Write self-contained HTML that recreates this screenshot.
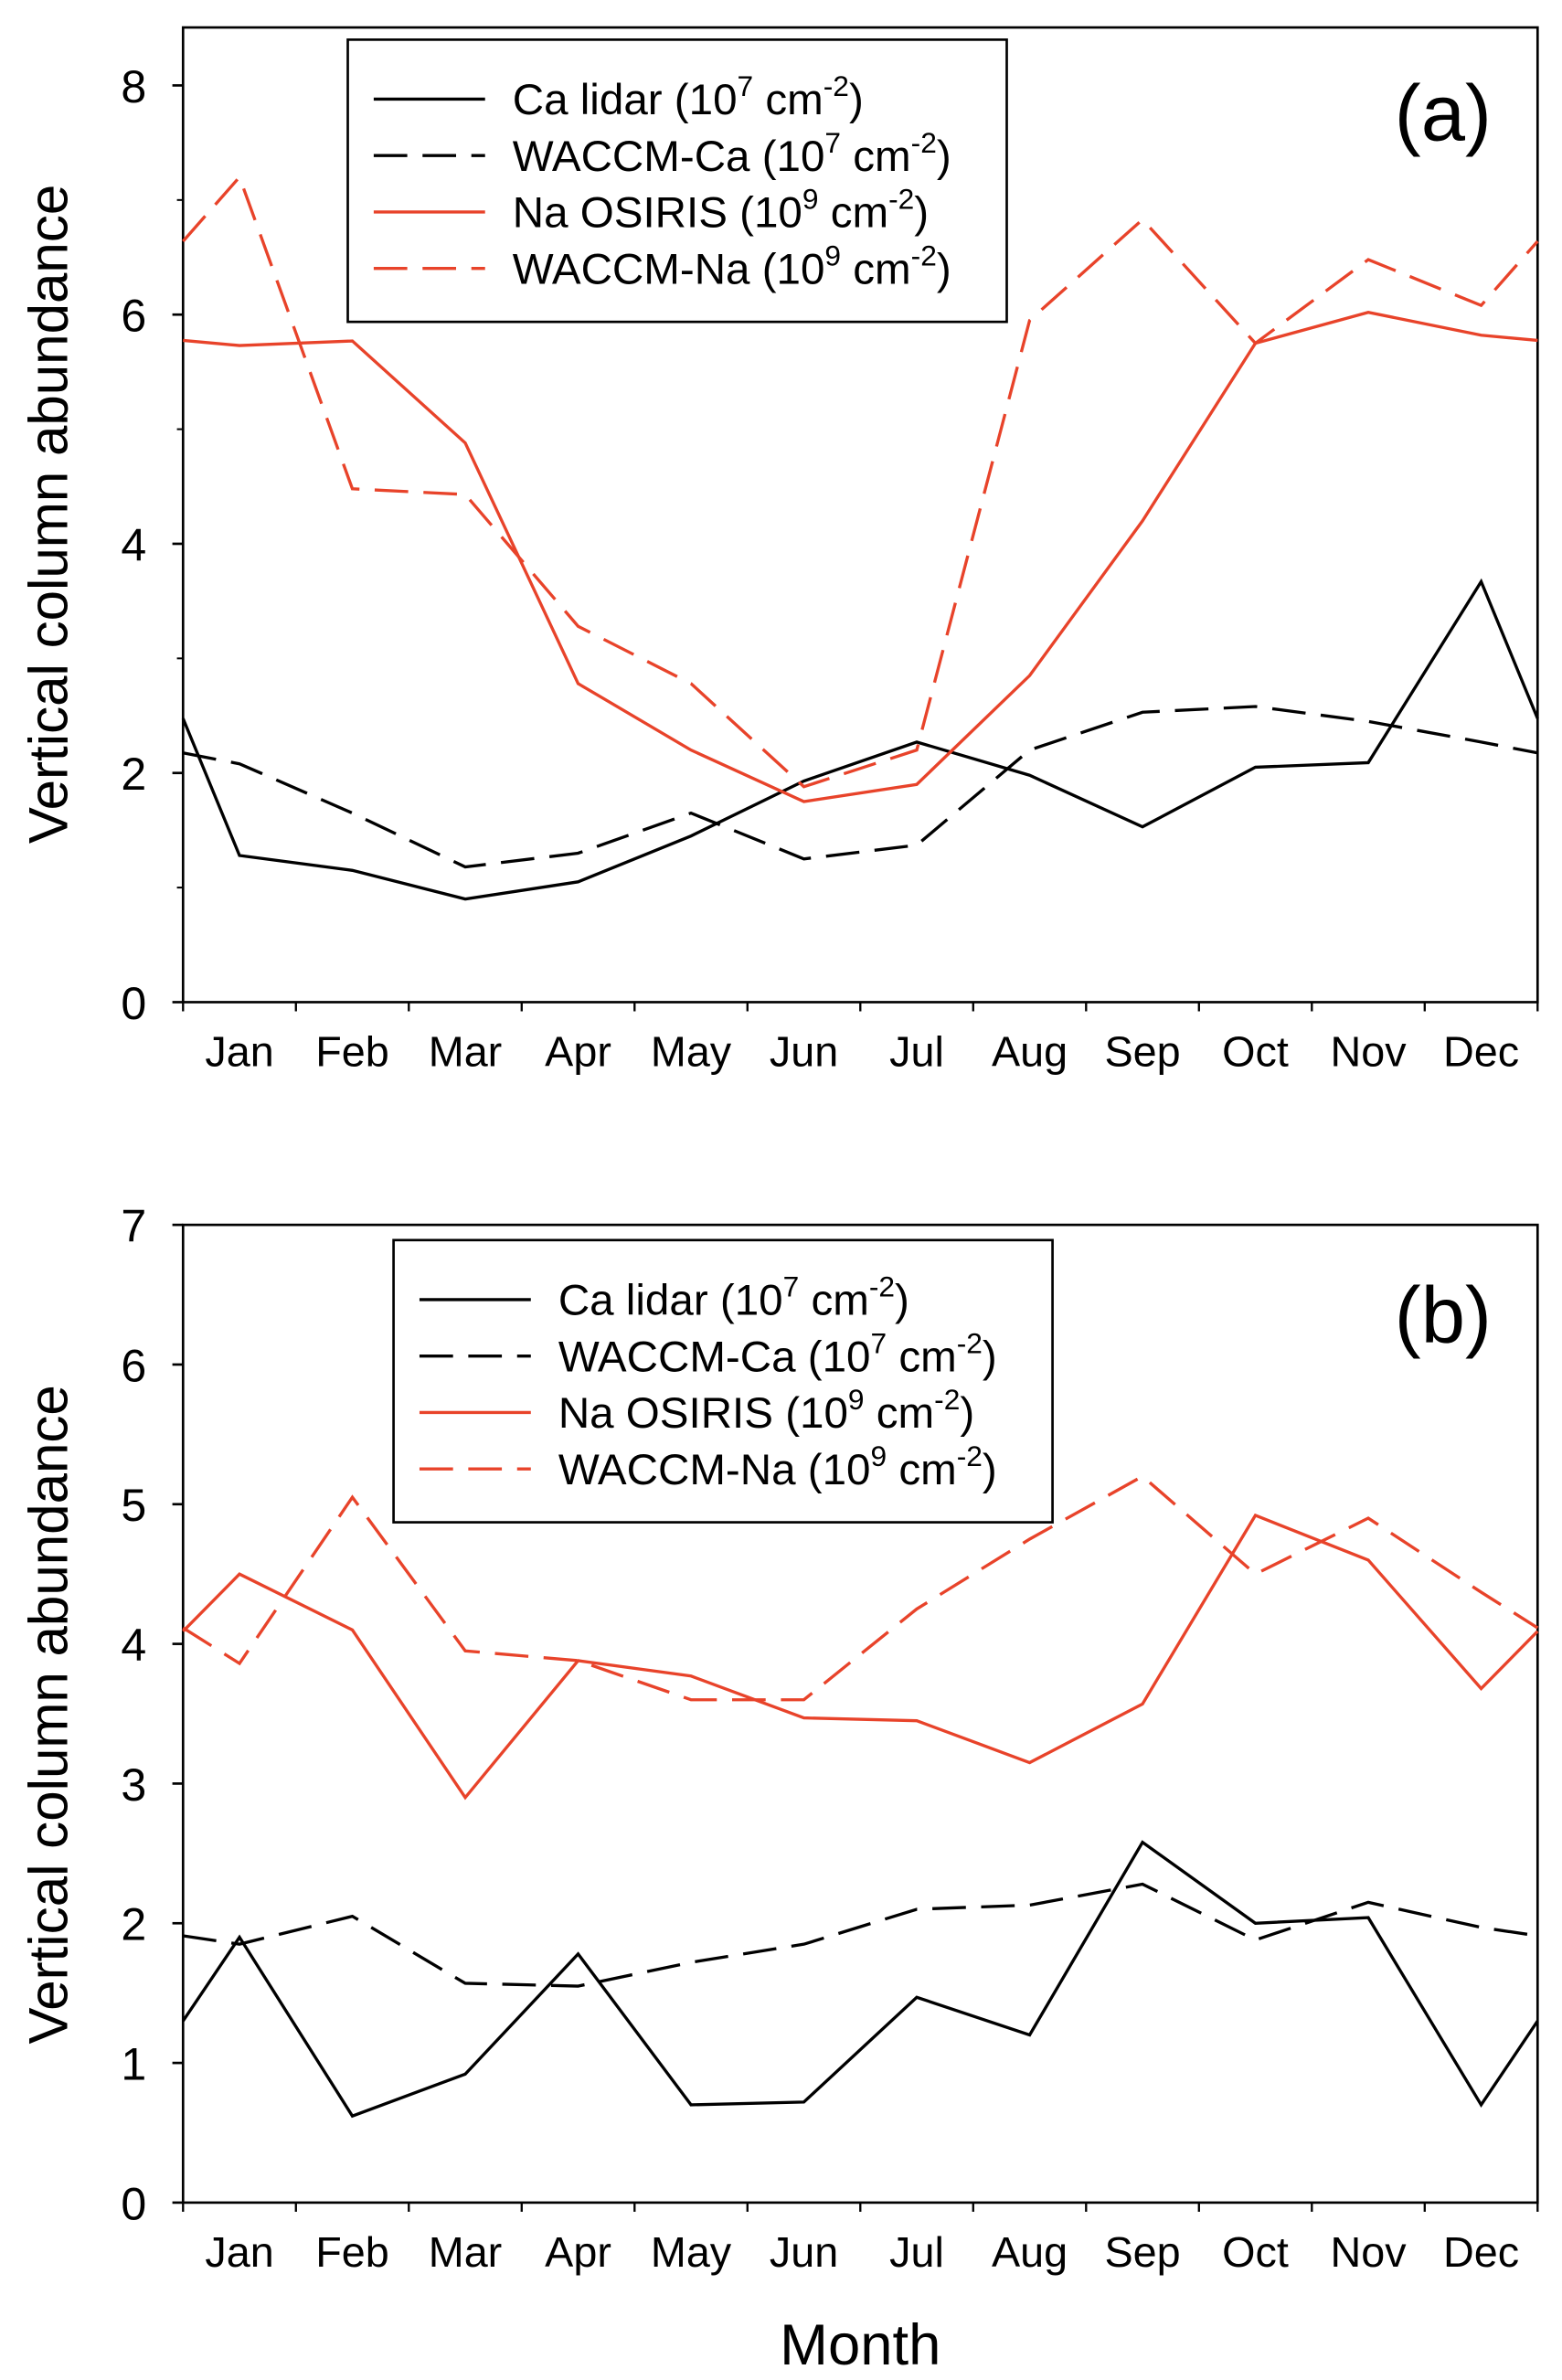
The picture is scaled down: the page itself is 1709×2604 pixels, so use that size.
<!DOCTYPE html>
<html><head><meta charset="utf-8"><style>
html,body{margin:0;padding:0;background:#fff;}
svg{display:block;font-family:"Liberation Sans",Arial,sans-serif;}
</style></head><body>
<svg id="chart" width="1709" height="2604" viewBox="0 0 1024 1560.3" preserveAspectRatio="none" xmlns="http://www.w3.org/2000/svg">
<g id="root"></g>
</svg>
<script>
const months = ["Jan","Feb","Mar","Apr","May","Jun","Jul","Aug","Sep","Oct","Nov","Dec"];
const seriesNames = ["Ca lidar","WACCM-Ca","Na OSIRIS","WACCM-Na"];
const legendUnits = ["7","7","9","9"];
const caLidarA = [1.28,1.15,0.9,1.05,1.45,1.93,2.27,1.98,1.53,2.05,2.09,3.67];
const waccmCaA = [2.08,1.65,1.18,1.3,1.65,1.25,1.37,2.2,2.53,2.58,2.45,2.27];
const naOsirisA = [5.73,5.77,4.88,2.78,2.2,1.75,1.9,2.85,4.2,5.75,6.02,5.82];
const waccmNaA = [7.2,4.48,4.43,3.28,2.78,1.88,2.2,5.95,6.83,5.75,6.48,6.08];
const caLidarB = [1.9,0.62,0.92,1.78,0.7,0.72,1.47,1.2,2.58,2.0,2.04,0.7];
const waccmCaB = [1.85,2.05,1.57,1.55,1.72,1.85,2.1,2.13,2.28,1.88,2.15,1.97];
const naOsirisB = [4.5,4.1,2.9,3.88,3.77,3.47,3.45,3.15,3.57,4.92,4.6,3.68];
const waccmNaB = [3.86,5.05,3.95,3.88,3.6,3.6,4.25,4.75,5.2,4.5,4.9,4.37];
const ticksA = [0,2,4,6,8];
const ticksB = [0,1,2,3,4,5,6,7];

const NS="http://www.w3.org/2000/svg";
const root=document.getElementById('root');
function el(tag,attrs,parent){const e=document.createElementNS(NS,tag);for(const k in attrs)e.setAttribute(k,attrs[k]);(parent||root).appendChild(e);return e;}
const RED="#e8432a";
const X0=120,X1=1008;
const monthW=(X1-X0)/12;
function xScale(i){return X0+monthW*(i+0.5);}

function panel(cfg){
  const g=el('g',{});
  
  
  const y=v=>cfg.y0-(v)*cfg.k;
  const plot=el('rect',{x:X0,y:cfg.top,width:X1-X0,height:cfg.y0-cfg.top,fill:'none',stroke:'#000','stroke-width':1.6},g);
  
  
  cfg.ticks.forEach(t=>{
    const ln=el('line',{x1:X0-7,x2:X0,y1:y(t),y2:y(t),stroke:'#000','stroke-width':1.6},g);
    
    
    const tx=el('text',{x:X0-24,y:y(t)+11,'font-size':30,'text-anchor':'end'},g);
    tx.textContent=t;
    
    
  });
  (cfg.minor||[]).forEach(t=>{
    const ln=el('line',{x1:X0-4,x2:X0,y1:y(t),y2:y(t),stroke:'#000','stroke-width':1.2},g);
    
    
  });
  for(let i=0;i<=12;i++){
    const xx=X0+monthW*i;
    const ln=el('line',{x1:xx,x2:xx,y1:cfg.y0,y2:cfg.y0+6,stroke:'#000','stroke-width':1.4},g);
    
    
  }
  months.forEach((m,i)=>{
    const tx=el('text',{x:xScale(i),y:cfg.y0+42,'font-size':28,'text-anchor':'middle'},g);
    tx.textContent=m;
    
    
  });
  const styles=[{c:'#000',d:''},{c:'#000',d:'22,10'},{c:RED,d:''},{c:RED,d:'22,10'}];
  cfg.data.forEach((arr,si)=>{
    const edge=(arr[0]+arr[11])/2;
    let pts=[[X0,y(edge)]];
    arr.forEach((v,i)=>pts.push([xScale(i),y(v)]));
    pts.push([X1,y(edge)]);
    const p=el('polyline',{points:pts.map(p=>p.join(',')).join(' '),fill:'none',stroke:styles[si].c,'stroke-width':2,'stroke-dasharray':styles[si].d,'stroke-linejoin':'miter'},g);
    
    
  });
  const lg=el('g',{},g);
  
  
  el('rect',{x:cfg.lx,y:cfg.ly,width:432,height:185,fill:'#fff',stroke:'#000','stroke-width':1.6},lg);
  seriesNames.forEach((n,i)=>{
    const yy=cfg.ly+39+i*37;
    const ln=el('line',{x1:cfg.lx+17,x2:cfg.lx+90,y1:yy,y2:yy,stroke:styles[i].c,'stroke-width':2,'stroke-dasharray':styles[i].d},lg);
    
    
    const tx=el('text',{x:cfg.lx+108,y:yy+10,'font-size':28.5},lg);
    
    
    tx.innerHTML=n+' (10<tspan dy="-12" font-size="19">'+legendUnits[i]+'</tspan><tspan dy="12"> cm</tspan><tspan dy="-12" font-size="19">-2</tspan><tspan dy="12">)</tspan>';
  });
  const lab=el('text',{x:946,y:cfg.labY,'font-size':52,'text-anchor':'middle'},g);
  lab.textContent=cfg.label;
  
  
  const yt=el('text',{x:0,y:0,'font-size':36,'text-anchor':'middle',transform:'translate(44,'+cfg.ylabY+') rotate(-90)'},g);
  yt.textContent='Vertical column abundance';
  
  
}
panel({name:'panel-a',top:18,y0:657,k:(657-56)/8,ticks:ticksA,minor:[1,3,5,7],data:[caLidarA,waccmCaA,naOsirisA,waccmNaA],lx:228,ly:26,label:'(a)',labY:92,ylabY:337});
panel({name:'panel-b',top:803,y0:1444,k:(1444-803)/7,ticks:ticksB,minor:[],data:[caLidarB,waccmCaB,naOsirisB,waccmNaB],lx:258,ly:813,label:'(b)',labY:880,ylabY:1124});
const mt=el('text',{x:564,y:1550,'font-size':38,'text-anchor':'middle'});
mt.textContent='Month';


</script>
</body></html>
